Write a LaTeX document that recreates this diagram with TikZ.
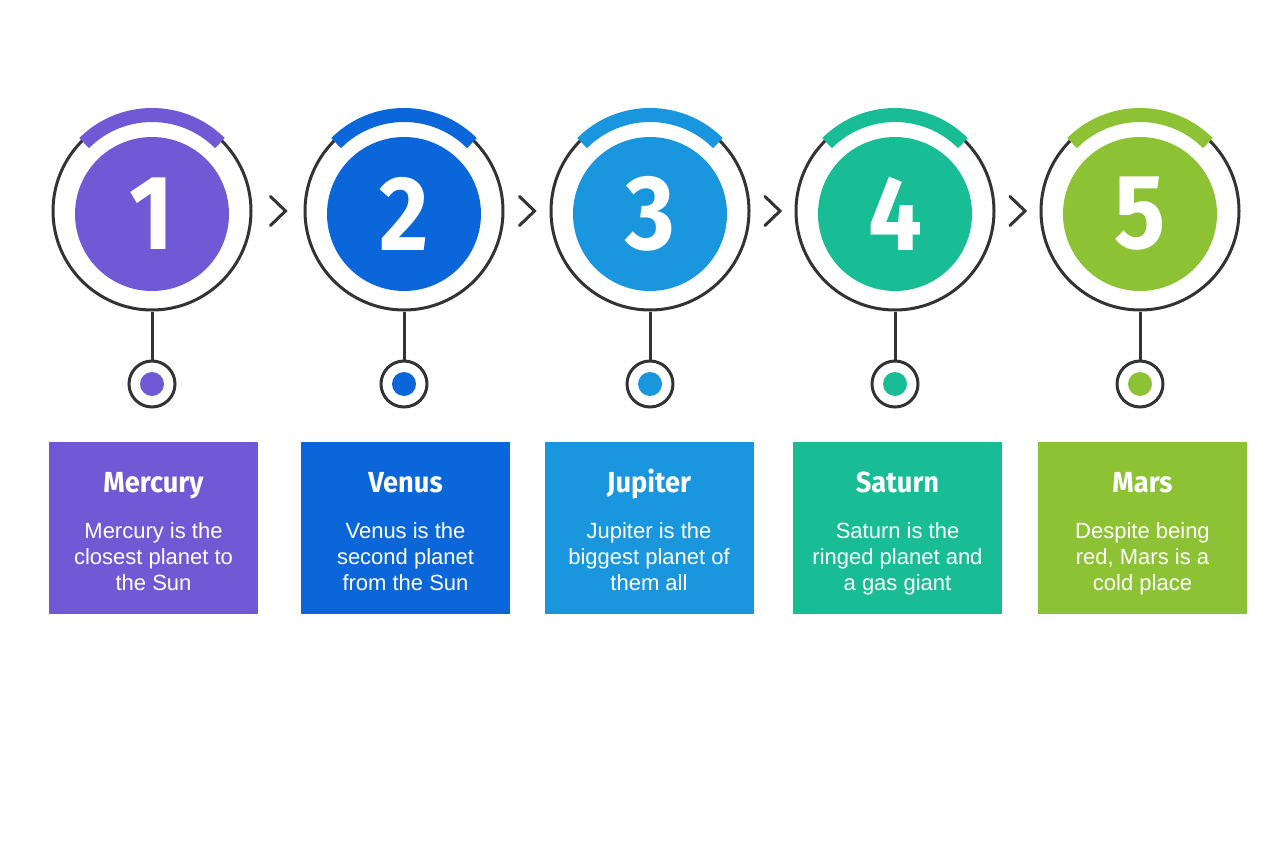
\documentclass[tikz,border=0pt]{standalone}
\usepackage{fontspec}
\setmainfont{Liberation Sans}
\newfontfamily\headfont[FakeStretch=0.94]{Fira Sans}
\newfontfamily\digitfont[FakeStretch=0.9]{Fira Sans}
\usetikzlibrary{calc}
\definecolor{cA}{HTML}{7059D4}
\definecolor{cB}{HTML}{0A66D9}
\definecolor{cC}{HTML}{1996DE}
\definecolor{cD}{HTML}{18BD95}
\definecolor{cE}{HTML}{8CC234}
\definecolor{ringgray}{HTML}{333333}
\tikzset{
  ring/.style={circle, draw=ringgray, line width=3pt, fill=white, minimum size=198pt, inner sep=0pt},
  disc/.style={circle, fill=#1, minimum size=154pt, inner sep=0pt, text=white, font=\digitfont\bfseries\fontsize{106}{106}\selectfont},
  band/.style={line width=14pt, draw=#1},
  stem/.style={draw=ringgray, line width=3pt},
  knob/.style={circle, draw=ringgray, line width=3pt, fill=white, minimum size=46pt, inner sep=0pt},
  dot/.style={circle, fill=#1, minimum size=24pt, inner sep=0pt},
  chev/.style={draw=ringgray, line width=3pt, line cap=round, line join=miter},
  card/.style={rectangle, fill=#1, minimum width=209pt, minimum height=172pt, inner sep=0pt},
  cardtitle/.style={text=white, anchor=base, font=\headfont\bfseries\fontsize{29}{29}\selectfont, inner sep=0pt},
  cardbody/.style={text=white, align=center, anchor=base, font=\fontsize{22}{26}\selectfont, inner sep=0pt},
}
\begin{document}
\begin{tikzpicture}[x=1pt, y=-1pt]
\useasboundingbox[fill=white] (0,0) rectangle (1280,853);
% stages
\foreach \i/\x/\col/\num/\cx in {1/152/cA/1/153.5, 2/404/cB/2/405.5, 3/650/cC/3/649, 4/895/cD/4/897.5, 5/1140/cE/5/1142.5}{
  \node[ring] (r\i) at (\x,211) {};
  \node[disc=\col] (d\i) at (\x,214) {\num};
  \draw[band=\col] ([shift={(-45:96)}]r\i.center) arc (-45:-135:96);
  \node[knob] (k\i) at (\x,384) {};
  \node[dot=\col] (p\i) at (k\i.center) {};
  \draw[stem] (r\i.south) -- (k\i.north);
  \node[card=\col] (b\i) at (\cx,528) {};
}
% chevrons
\foreach \a/\b in {1/2, 2/3, 3/4, 4/5}{
  \coordinate (m\a) at ($(r\a.east)!0.5!(r\b.west)$);
  \draw[chev] ($(m\a)+(-7.5,-14.5)$) -- ($(m\a)+(7.5,0)$) -- ($(m\a)+(-7.5,14.5)$);
}
% card texts (body nodes: base = baseline of last line)
\node[cardtitle] (t1) at (b1.center |- 0,492) {Mercury};
\node[cardbody]  (x1) at (b1.center |- 0,590) {Mercury is the\\closest planet to\\the Sun};
\node[cardtitle] (t2) at (b2.center |- 0,492) {Venus};
\node[cardbody]  (x2) at (b2.center |- 0,590) {Venus is the\\second planet\\from the Sun};
\node[cardtitle] (t3) at (b3.center |- 0,492) {Jupiter};
\node[cardbody]  (x3) at (b3.center |- 0,590) {Jupiter is the\\biggest planet of\\them all};
\node[cardtitle] (t4) at (b4.center |- 0,492) {Saturn};
\node[cardbody]  (x4) at (b4.center |- 0,590) {Saturn is the\\ringed planet and\\a gas giant};
\node[cardtitle] (t5) at (b5.center |- 0,492) {Mars};
\node[cardbody]  (x5) at (b5.center |- 0,590) {Despite being\\red, Mars is a\\cold place};
\end{tikzpicture}
\end{document}
